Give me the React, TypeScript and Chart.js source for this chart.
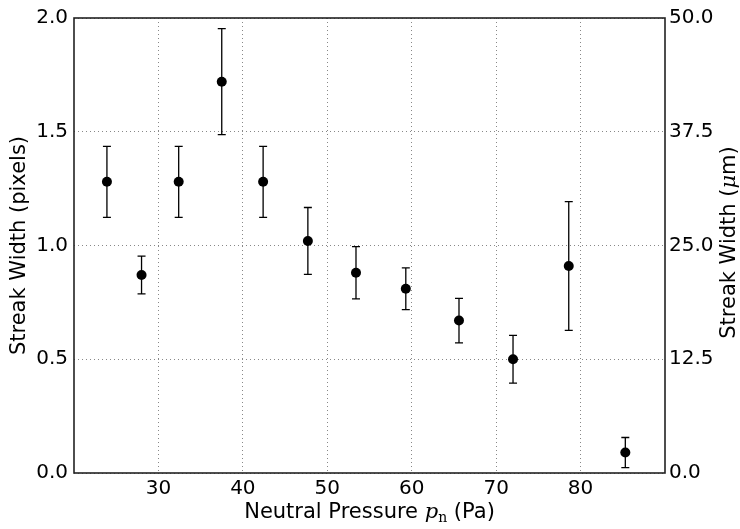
import React, { useEffect, useRef } from 'react';
import { Chart, registerables } from 'chart.js';

Chart.register(...registerables);

// Neutral pressure (Pa)
const pressure = [23.9, 28.0, 32.4, 37.5, 42.4, 47.7, 53.4, 59.3, 65.6, 72.0, 78.6, 85.3];
// Streak width (pixels)
const widthPx = [1.28, 0.87, 1.28, 1.72, 1.28, 1.02, 0.88, 0.81, 0.67, 0.5, 0.91, 0.09];
// Error (pixels, symmetric)
const widthErr = [0.156, 0.083, 0.156, 0.233, 0.156, 0.147, 0.115, 0.092, 0.098, 0.105, 0.283, 0.066];

const xTicks = [30, 40, 50, 60, 70, 80];
const leftTicks = [0, 0.5, 1.0, 1.5, 2.0];
const rightTicks = [0, 12.5, 25, 37.5, 50];
const umPerPixel = 25;

const FONT = "'DejaVu Sans', sans-serif";
const SERIF = "'DejaVu Serif', serif";

const errorBarPlugin = {
  id: 'errorBars',
  beforeDatasetsDraw(chart: any) {
    const { ctx } = chart;
    const xs = chart.scales.x;
    const ys = chart.scales.y;
    ctx.save();
    ctx.strokeStyle = '#000';
    ctx.lineWidth = 1.3;
    pressure.forEach((p, i) => {
      const px = xs.getPixelForValue(p);
      const top = ys.getPixelForValue(widthPx[i] + widthErr[i]);
      const bot = ys.getPixelForValue(widthPx[i] - widthErr[i]);
      ctx.beginPath();
      ctx.moveTo(px, top);
      ctx.lineTo(px, bot);
      ctx.moveTo(px - 4, top);
      ctx.lineTo(px + 4, top);
      ctx.moveTo(px - 4, bot);
      ctx.lineTo(px + 4, bot);
      ctx.stroke();
    });
    ctx.restore();
  },
};

const framePlugin = {
  id: 'frameTitles',
  afterDraw(chart: any) {
    const { ctx, chartArea: a } = chart;
    ctx.save();
    ctx.strokeStyle = '#222';
    ctx.lineWidth = 1.6;
    ctx.strokeRect(a.left, a.top, a.right - a.left, a.bottom - a.top);

    ctx.fillStyle = '#000';
    ctx.textBaseline = 'middle';
    // x title with mixed fonts
    const y = 513;
    const parts: [string, string, number][] = [
      ['Neutral Pressure ', `21px ${FONT}`, 0],
      ['p', `italic 21px ${SERIF}`, 0],
      ['n', `14px ${SERIF}`, 5],
      [' (Pa)', `21px ${FONT}`, 0],
    ];
    let total = 0;
    parts.forEach(([t, f]) => {
      ctx.font = f;
      total += ctx.measureText(t).width;
    });
    let x = (a.left + a.right) / 2 - total / 2;
    ctx.textAlign = 'left';
    parts.forEach(([t, f, dy]) => {
      ctx.font = f;
      ctx.fillText(t, x, y + dy);
      x += ctx.measureText(t).width;
    });

    const cy = (a.top + a.bottom) / 2;
    // left title
    ctx.save();
    ctx.translate(20, cy);
    ctx.rotate(-Math.PI / 2);
    ctx.textAlign = 'center';
    ctx.font = `21px ${FONT}`;
    ctx.fillText('Streak Width (pixels)', 0, 0);
    ctx.restore();

    // right title
    ctx.save();
    ctx.translate(730, cy - 3);
    ctx.rotate(-Math.PI / 2);
    const rparts: [string, string][] = [
      ['Streak Width (', `21px ${FONT}`],
      ['\u03bc', `italic 21px ${SERIF}`],
      ['m)', `21px ${FONT}`],
    ];
    let rt = 0;
    rparts.forEach(([t, f]) => {
      ctx.font = f;
      rt += ctx.measureText(t).width;
    });
    let rx = -rt / 2;
    ctx.textAlign = 'left';
    rparts.forEach(([t, f]) => {
      ctx.font = f;
      ctx.fillText(t, rx, 0);
      rx += ctx.measureText(t).width;
    });
    ctx.restore();
    ctx.restore();
  },
};

export default function App() {
  const ref = useRef<HTMLCanvasElement>(null);
  useEffect(() => {
    if (!ref.current) return;
    const gridCommon = {
      color: '#888',
      lineWidth: 1,
      drawTicks: false,
    };
    const chart = new Chart(ref.current, {
      type: 'scatter',
      data: {
        datasets: [
          {
            data: pressure.map((p, i) => ({ x: p, y: widthPx[i] })),
            backgroundColor: '#000',
            borderColor: '#000',
            borderWidth: 0,
            pointRadius: 5,
            showLine: false,
          },
        ],
      },
      options: {
        responsive: false,
        animation: false,
        events: [],
        layout: { padding: { top: 15, left: 0, right: 0, bottom: 0 } },
        plugins: { legend: { display: false }, tooltip: { enabled: false } },
        scales: {
          x: {
            type: 'linear',
            min: 20,
            max: 90,
            afterBuildTicks: (s: any) => {
              s.ticks = xTicks.map((v) => ({ value: v }));
            },
            afterFit: (s: any) => {
              s.height = 56;
            },
            grid: gridCommon,
            border: { display: false, dash: [1, 3] },
            ticks: { color: '#000', font: { family: FONT, size: 20 }, padding: 4, maxRotation: 0 },
          },
          y: {
            type: 'linear',
            position: 'left',
            min: 0,
            max: 2,
            afterBuildTicks: (s: any) => {
              s.ticks = leftTicks.map((v) => ({ value: v }));
            },
            afterFit: (s: any) => {
              s.width = 74;
            },
            grid: gridCommon,
            border: { display: false, dash: [1, 3] },
            ticks: {
              color: '#000',
              font: { family: FONT, size: 20 },
              padding: 6,
              callback: (v: any) => Number(v).toFixed(1),
            },
          },
          y2: {
            type: 'linear',
            position: 'right',
            min: 0,
            max: 2 * umPerPixel,
            afterBuildTicks: (s: any) => {
              s.ticks = rightTicks.map((v) => ({ value: v }));
            },
            afterFit: (s: any) => {
              s.width = 75;
            },
            grid: { display: false, drawTicks: false },
            border: { display: false },
            ticks: {
              color: '#000',
              font: { family: FONT, size: 20 },
              padding: 4,
              callback: (v: any) => Number(v).toFixed(1),
            },
          },
        },
      },
      plugins: [errorBarPlugin, framePlugin],
    } as any);
    return () => chart.destroy();
  }, []);
  return (
    <div style={{ position: 'fixed', left: 0, top: 0, width: 740, height: 529, background: '#fff' }}>
      <canvas ref={ref} width={740} height={529} style={{ width: 740, height: 529 }} />
    </div>
  );
}
